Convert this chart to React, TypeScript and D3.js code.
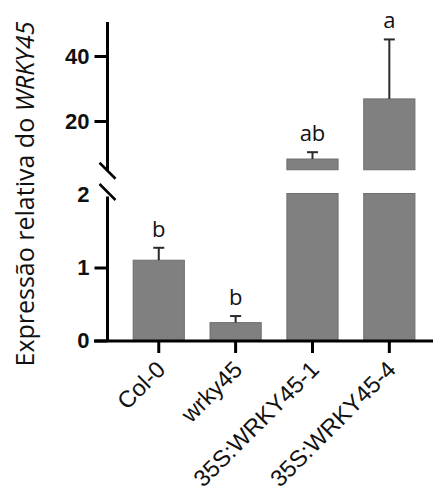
import React, { useEffect, useRef } from "react";
import * as d3 from "d3";

const categories = ["Col-0", "wrky45", "35S:WRKY45-1", "35S:WRKY45-4"];
const means = [1.1, 0.245, 8.3, 26.8];
const errors = [0.17, 0.09, 2.1, 18.3];
const letters = ["b", "b", "ab", "a"];
const lowerTicks = [0, 1, 2];
const upperTicks = [20, 40];
const lowerDomain = [0, 2];
const upperDomain = [5, 50];

export default function App() {
  const ref = useRef<SVGSVGElement | null>(null);

  useEffect(() => {
    const svg = d3.select(ref.current);
    svg.selectAll("*").remove();

    const axisX = 107.5;
    const x = d3
      .scaleBand<string>()
      .domain(categories)
      .range([axisX, 440.6])
      .padding(0.334);
    const yLow = d3.scaleLinear().domain(lowerDomain).range([340.5, 194.5]);
    const yUp = d3.scaleLinear().domain(upperDomain).range([169.75, 23.5]);

    const barFill = "#808080";
    const barStroke = "#6e6e6e";
    const g = svg.append("g");

    categories.forEach((c, i) => {
      const v = means[i];
      const x0 = x(c)!;
      const w = x.bandwidth();
      if (v <= lowerDomain[1]) {
        g.append("rect")
          .attr("x", x0)
          .attr("y", yLow(v))
          .attr("width", w)
          .attr("height", yLow(0) - yLow(v))
          .attr("fill", barFill)
          .attr("stroke", barStroke)
          .attr("stroke-width", 1);
      } else {
        g.append("rect")
          .attr("x", x0)
          .attr("y", yLow(lowerDomain[1]) - 1)
          .attr("width", w)
          .attr("height", yLow(0) - yLow(lowerDomain[1]) + 1)
          .attr("fill", barFill)
          .attr("stroke", barStroke)
          .attr("stroke-width", 1);
        g.append("rect")
          .attr("x", x0)
          .attr("y", yUp(v))
          .attr("width", w)
          .attr("height", yUp(upperDomain[0]) - yUp(v))
          .attr("fill", barFill)
          .attr("stroke", barStroke)
          .attr("stroke-width", 1);
      }
    });

    categories.forEach((c, i) => {
      const v = means[i];
      const cx = x(c)! + x.bandwidth() / 2;
      const sc = v <= lowerDomain[1] ? yLow : yUp;
      const yTop = sc(v + errors[i]);
      const yBase = sc(v);
      g.append("line")
        .attr("x1", cx)
        .attr("x2", cx)
        .attr("y1", yBase)
        .attr("y2", yTop)
        .attr("stroke", "#2a2a2a")
        .attr("stroke-width", 2);
      g.append("line")
        .attr("x1", cx - 5.5)
        .attr("x2", cx + 5.5)
        .attr("y1", yTop)
        .attr("y2", yTop)
        .attr("stroke", "#2a2a2a")
        .attr("stroke-width", 2);
      g.append("text")
        .attr("x", cx)
        .attr("y", yTop - 11)
        .attr("text-anchor", "middle")
        .attr("font-family", "'Open Sans', 'Noto Sans', sans-serif")
        .attr("font-size", 22)
        .attr("fill", "#111")
        .text(letters[i]);
    });

    const lowAxis = d3
      .axisLeft(yLow)
      .tickValues(lowerTicks)
      .tickSize(13)
      .tickPadding(5)
      .tickFormat(d3.format("d"));
    const upAxis = d3
      .axisLeft(yUp)
      .tickValues(upperTicks)
      .tickSize(13)
      .tickPadding(5)
      .tickFormat(d3.format("d"));

    const styleAxis = (sel: any) => {
      sel.select(".domain").remove();
      sel.selectAll(".tick line").attr("stroke", "#000").attr("stroke-width", 3);
      sel
        .selectAll(".tick text")
        .attr("font-family", "'Liberation Sans', Arial, sans-serif")
        .attr("font-weight", "bold")
        .attr("font-size", 22)
        .attr("fill", "#111");
    };

    const la = svg.append("g").attr("transform", `translate(${axisX},0)`).call(lowAxis as any);
    styleAxis(la);
    la.selectAll(".tick")
      .filter((d: any) => d === 2)
      .select("line")
      .remove();
    const ua = svg.append("g").attr("transform", `translate(${axisX},0)`).call(upAxis as any);
    styleAxis(ua);

    svg
      .append("line")
      .attr("x1", axisX)
      .attr("x2", axisX)
      .attr("y1", yLow(0) + 1.5)
      .attr("y2", yLow(lowerDomain[1]) + 2)
      .attr("stroke", "#000")
      .attr("stroke-width", 3);
    svg
      .append("line")
      .attr("x1", axisX)
      .attr("x2", axisX)
      .attr("y1", yUp(upperDomain[0]) + 1.5)
      .attr("y2", yUp(upperDomain[1]) - 1.5)
      .attr("stroke", "#000")
      .attr("stroke-width", 3);

    [yUp(upperDomain[0]) + 1, yLow(lowerDomain[1]) - 2.5].forEach((cy) => {
      svg
        .append("line")
        .attr("x1", axisX - 8)
        .attr("x2", axisX + 8)
        .attr("y1", cy - 8)
        .attr("y2", cy + 8)
        .attr("stroke", "#000")
        .attr("stroke-width", 2.5);
    });

    const xAxis = d3.axisBottom(x).tickSize(12).tickSizeOuter(0).tickPadding(4);
    const xa = svg.append("g").attr("transform", `translate(0,${yLow(0) + 0.5})`).call(xAxis as any);
    xa.select(".domain").remove();
    xa.selectAll(".tick line").attr("stroke", "#000").attr("stroke-width", 3);
    xa.selectAll(".tick text")
      .attr("font-family", "'Liberation Sans', Arial, sans-serif")
      .attr("font-size", 23.5)
      .attr("fill", "#111")
      .attr("text-anchor", "end")
      .attr("x", 0)
      .attr("y", 0)
      .attr("dy", 0)
      .attr("transform", "translate(8,30) rotate(-45)");
    svg
      .append("line")
      .attr("x1", 94)
      .attr("x2", 433)
      .attr("y1", yLow(0) + 0.5)
      .attr("y2", yLow(0) + 0.5)
      .attr("stroke", "#000")
      .attr("stroke-width", 3);

    const title = svg
      .append("text")
      .attr("transform", "translate(33.5,194) rotate(-90)")
      .attr("text-anchor", "middle")
      .attr("font-family", "'Open Sans', 'Noto Sans', sans-serif")
      .attr("font-size", 25)
      .attr("fill", "#111");
    title.append("tspan").text("Expressão relativa do ");
    title.append("tspan").attr("font-style", "italic").text("WRKY45");
  }, []);

  return (
    <svg
      ref={ref}
      width={433}
      height={493}
      style={{ position: "absolute", left: 0, top: 0, background: "#fff" }}
    />
  );
}
